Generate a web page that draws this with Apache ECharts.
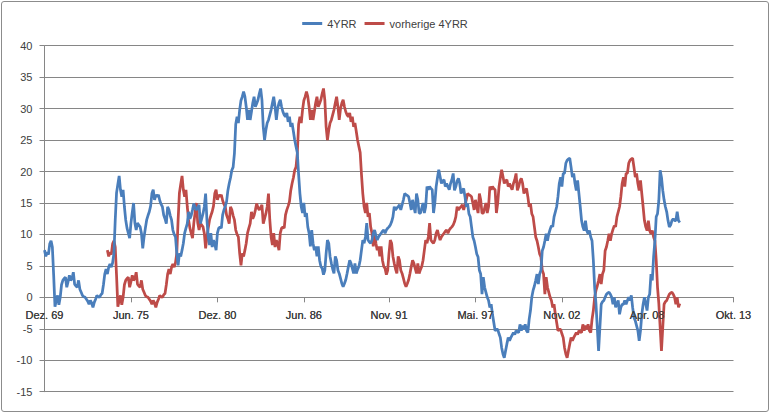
<!DOCTYPE html>
<html><head><meta charset="utf-8">
<script src="https://cdn.jsdelivr.net/npm/echarts@6/dist/echarts.min.js"></script>
<style>
html,body{margin:0;padding:0;background:#fff}
#c{position:absolute;left:0;top:0;width:770px;height:413px}
#frame{position:absolute;left:1px;top:1px;width:766px;height:409px;border:1px solid #8c8c8c;border-radius:3px;pointer-events:none}
</style>
</head><body><div id="c"></div><div id="frame"></div>
<script>
const seriesNames = ["4YRR", "vorherige 4YRR"];
const monthNames = ["Jan.", "Feb.", "Mär.", "Apr.", "Mai.", "Jun.", "Jul.", "Aug.", "Sep.", "Okt.", "Nov.", "Dez."];
const firstYear = 1969, firstMonthIdx = 11;   // Dez. 69
const lastYear = 2013, lastMonthIdx = 9;      // Okt. 13
const tickLabels = ["Dez. 69", "Jun. 75", "Dez. 80", "Jun. 86", "Nov. 91", "Mai. 97", "Nov. 02", "Apr. 08", "Okt. 13"];
const yMin = -15, yMax = 40, yStep = 5;

// 4YRR, monthly from Dez. 69
const fourYRR = [
7.5,6.5,7.2,6.8,8.5,9.0,8.0,3.5,-1.5,-0.5,0.3,-1.2,
0.0,2.0,2.7,3.0,3.2,1.6,2.5,3.5,2.7,3.0,4.0,2.1,
1.8,1.6,2.7,1.3,0.8,0.3,0.1,0.0,-0.3,-0.6,-1.1,-0.5,
-0.9,-1.6,-0.8,-0.3,0.3,0.1,0.0,0.4,0.6,2.0,3.7,4.5,
3.7,4.8,5.3,4.8,5.5,7.0,12.3,16.6,18.0,19.3,17.1,16.0,
17.1,14.4,12.3,11.0,10.2,9.4,11.8,13.5,15.0,11.8,10.7,11.8,
11.5,11.2,10.2,7.8,9.6,11.0,12.3,13.0,13.6,14.5,16.5,17.1,
15.5,16.3,16.0,16.3,15.4,14.8,14.4,13.1,12.5,11.7,14.4,13.9,
13.0,12.3,10.7,10.0,9.6,7.0,5.1,7.0,6.5,7.5,8.6,10.2,
11.0,11.7,13.6,12.5,13.0,13.9,14.9,14.2,13.9,14.3,14.7,11.7,
12.5,13.3,14.4,16.5,12.3,9.6,8.3,10.2,8.0,9.1,8.5,7.5,
10.2,11.0,11.2,11.0,13.1,13.9,14.5,15.2,17.0,18.1,19.0,20.2,
20.7,22.9,27.5,28.7,27.7,29.8,31.3,31.9,32.7,31.9,30.3,28.2,
29.8,28.2,29.5,30.9,31.9,30.3,30.8,31.4,32.4,33.2,31.4,27.1,
25.0,26.6,27.7,28.2,29.0,29.8,30.9,31.9,30.3,28.2,30.0,30.9,
31.4,30.3,29.5,29.0,28.7,29.3,27.9,28.7,27.1,27.7,26.4,25.0,
24.0,23.0,19.5,16.5,14.4,13.4,15.0,12.8,13.4,11.2,10.2,8.1,
10.7,8.6,7.5,8.1,6.5,8.1,5.9,4.9,4.6,3.6,4.3,7.0,
9.1,8.6,6.5,5.4,4.5,3.8,6.5,5.9,4.3,3.8,3.0,2.2,
1.7,2.2,2.8,3.8,4.9,5.9,5.4,4.6,3.8,5.4,3.8,4.4,
4.9,5.9,7.5,9.1,8.6,9.6,11.8,9.1,8.8,8.6,9.1,10.2,
10.7,9.8,9.1,9.6,9.9,10.2,10.5,10.7,10.2,10.7,11.0,11.2,
11.5,12.0,12.8,14.4,13.9,14.2,14.4,14.7,13.9,14.7,15.5,16.5,
16.3,16.2,16.0,15.0,13.9,15.5,14.4,13.4,16.5,15.5,13.4,13.4,
14.2,15.0,13.4,14.4,17.6,17.1,17.6,17.3,17.1,13.4,15.0,17.6,
19.0,20.3,19.2,18.1,18.5,18.7,17.6,18.1,17.6,17.1,18.1,18.7,
19.7,17.0,17.6,18.5,18.9,18.1,16.5,17.0,17.3,16.0,14.4,14.9,
13.3,12.8,11.2,9.6,9.0,8.0,6.9,6.4,4.3,3.7,0.5,3.2,
1.6,0.8,0.0,-0.5,-1.6,-1.1,-2.7,-4.0,-5.3,-5.1,-5.1,-5.8,
-6.4,-8.0,-9.0,-9.6,-8.5,-7.4,-6.4,-6.9,-6.4,-6.0,-5.6,-5.9,
-5.3,-5.5,-5.6,-4.3,-5.3,-4.5,-5.1,-4.3,-5.3,-5.6,-3.5,-2.1,
0.0,1.1,1.8,2.7,3.7,2.1,3.7,4.3,7.4,8.0,9.0,10.1,
9.0,10.1,10.8,11.4,11.2,12.8,13.6,14.4,16.0,18.1,19.1,17.6,
19.7,19.7,21.3,21.8,22.0,22.1,20.7,19.1,19.7,18.1,17.0,18.6,
16.5,14.4,12.2,11.2,10.6,12.2,10.6,10.1,10.6,9.6,9.0,5.9,
1.6,-1.0,-4.8,-8.5,-4.8,-1.1,-0.7,-0.5,0.0,0.5,0.7,0.8,
0.5,0.0,-1.1,0.0,-1.6,-1.0,-0.5,-2.7,-1.6,-1.1,-1.1,-0.5,
-1.1,-0.5,0.0,-0.5,0.3,-1.6,-3.2,-3.7,-4.5,-5.3,-6.9,-5.3,
-2.7,-1.1,0.0,-1.0,-2.1,0.0,0.5,3.7,2.7,6.4,9.0,12.8,
13.3,15.4,20.2,19.1,17.0,15.5,14.4,13.6,12.2,11.2,11.5,12.2,
12.5,12.2,12.2,13.6,12.2,11.9
];

// vorherige 4YRR, monthly from Dez. 73
const redStart = "Dez. 73";
const vorherige4YRR = [
7.5,6.5,7.2,6.8,8.5,9.0,8.0,3.5,-1.5,-0.5,0.3,-1.2,
0.0,2.0,2.7,3.0,3.2,1.6,2.5,3.5,2.7,3.0,4.0,2.1,
1.8,1.6,2.7,1.3,0.8,0.3,0.1,0.0,-0.3,-0.6,-1.1,-0.5,
-0.9,-1.6,-0.8,-0.3,0.3,0.1,0.0,0.4,0.6,2.0,3.7,4.5,
3.7,4.8,5.3,4.8,5.5,7.0,12.3,16.6,18.0,19.3,17.1,16.0,
17.1,14.4,12.3,11.0,10.2,9.4,11.8,13.5,15.0,11.8,10.7,11.8,
11.5,11.2,10.2,7.8,9.6,11.0,12.3,13.0,13.6,14.5,16.5,17.1,
15.5,16.3,16.0,16.3,15.4,14.8,14.4,13.1,12.5,11.7,14.4,13.9,
13.0,12.3,10.7,10.0,9.6,7.0,5.1,7.0,6.5,7.5,8.6,10.2,
11.0,11.7,13.6,12.5,13.0,13.9,14.9,14.2,13.9,14.3,14.7,11.7,
12.5,13.3,14.4,16.5,12.3,9.6,8.3,10.2,8.0,9.1,8.5,7.5,
10.2,11.0,11.2,11.0,13.1,13.9,14.5,15.2,17.0,18.1,19.0,20.2,
20.7,22.9,27.5,28.7,27.7,29.8,31.3,31.9,32.7,31.9,30.3,28.2,
29.8,28.2,29.5,30.9,31.9,30.3,30.8,31.4,32.4,33.2,31.4,27.1,
25.0,26.6,27.7,28.2,29.0,29.8,30.9,31.9,30.3,28.2,30.0,30.9,
31.4,30.3,29.5,29.0,28.7,29.3,27.9,28.7,27.1,27.7,26.4,25.0,
24.0,23.0,19.5,16.5,14.4,13.4,15.0,12.8,13.4,11.2,10.2,8.1,
10.7,8.6,7.5,8.1,6.5,8.1,5.9,4.9,4.6,3.6,4.3,7.0,
9.1,8.6,6.5,5.4,4.5,3.8,6.5,5.9,4.3,3.8,3.0,2.2,
1.7,2.2,2.8,3.8,4.9,5.9,5.4,4.6,3.8,5.4,3.8,4.4,
4.9,5.9,7.5,9.1,8.6,9.6,11.8,9.1,8.8,8.6,9.1,10.2,
10.7,9.8,9.1,9.6,9.9,10.2,10.5,10.7,10.2,10.7,11.0,11.2,
11.5,12.0,12.8,14.4,13.9,14.2,14.4,14.7,13.9,14.7,15.5,16.5,
16.3,16.2,16.0,15.0,13.9,15.5,14.4,13.4,16.5,15.5,13.4,13.4,
14.2,15.0,13.4,14.4,17.6,17.1,17.6,17.3,17.1,13.4,15.0,17.6,
19.0,20.3,19.2,18.1,18.5,18.7,17.6,18.1,17.6,17.1,18.1,18.7,
19.7,17.0,17.6,18.5,18.9,18.1,16.5,17.0,17.3,16.0,14.4,14.9,
13.3,12.8,11.2,9.6,9.0,8.0,6.9,6.4,4.3,3.7,0.5,3.2,
1.6,0.8,0.0,-0.5,-1.6,-1.1,-2.7,-4.0,-5.3,-5.1,-5.1,-5.8,
-6.4,-8.0,-9.0,-9.6,-8.5,-7.4,-6.4,-6.9,-6.4,-6.0,-5.6,-5.9,
-5.3,-5.5,-5.6,-4.3,-5.3,-4.5,-5.1,-4.3,-5.3,-5.6,-3.5,-2.1,
0.0,1.1,1.8,2.7,3.7,2.1,3.7,4.3,7.4,8.0,9.0,10.1,
9.0,10.1,10.8,11.4,11.2,12.8,13.6,14.4,16.0,18.1,19.1,17.6,
19.7,19.7,21.3,21.8,22.0,22.1,20.7,19.1,19.7,18.1,17.0,18.6,
16.5,14.4,12.2,11.2,10.6,12.2,10.6,10.1,10.6,9.6,9.0,5.9,
1.6,-1.0,-4.8,-8.5,-4.8,-1.1,-0.7,-0.5,0.0,0.5,0.7,0.8,
0.5,0.0,-1.1,0.0,-1.6,-1.0
];

// build month categories
const categories = [];
{
  let y = firstYear, m = firstMonthIdx;
  while (y < lastYear || (y === lastYear && m <= lastMonthIdx)) {
    categories.push(monthNames[m] + " " + String(y % 100).padStart(2, "0"));
    m++; if (m > 11) { m = 0; y++; }
  }
}
const redOffset = categories.indexOf(redStart);
const redData = new Array(redOffset).fill(null).concat(vorherige4YRR);

const FONT = "Liberation Sans, Arial, sans-serif";
const showTick = (idx, val) => tickLabels.indexOf(val) >= 0;

const GRID = { left: 44.5, right: 36.5, top: 45.7, bottom: 21.3 };
const plotH = 413 - GRID.top - GRID.bottom;
const zeroFromBottom = plotH * (0 - yMin) / (yMax - yMin);

const xAxisBase = {
  type: "category",
  data: categories,
  boundaryGap: false,
  position: "bottom",
  offset: -zeroFromBottom,
  axisLine: { onZero: false, lineStyle: { color: "#868686", width: 1 } },
  axisTick: { show: true, interval: showTick, length: 5, lineStyle: { color: "#868686" } },
  axisLabel: { interval: showTick, fontSize: 11, color: "#404040", fontFamily: FONT, margin: 12, hideOverlap: false },
  splitLine: { show: false }
};

const chart = echarts.init(document.getElementById("c"), null, { renderer: "svg" });
chart.setOption({
  animation: false,
  backgroundColor: "#ffffff",
  grid: Object.assign({ containLabel: false }, GRID),
  legend: {
    top: 13, left: "center",
    icon: "rect", itemWidth: 20, itemHeight: 3, itemGap: 8,
    textStyle: { fontSize: 11, color: "#404040", fontFamily: FONT },
    data: seriesNames
  },
  xAxis: [
    Object.assign({}, xAxisBase, { z: 0 }),
    Object.assign({}, xAxisBase, { z: 50, axisLine: { show: false }, axisTick: { show: false } })
  ],
  yAxis: {
    type: "value",
    min: yMin, max: yMax, interval: yStep,
    axisLine: { show: true, lineStyle: { color: "#868686", width: 1 } },
    axisTick: { show: true, length: 5, lineStyle: { color: "#868686" } },
    axisLabel: { fontSize: 11, color: "#404040", fontFamily: FONT, margin: 12 },
    splitLine: { show: true, lineStyle: { color: "#868686", width: 1 } }
  },
  series: [
    { name: seriesNames[0], type: "line", data: fourYRR, symbol: "none", connectNulls: false,
      lineStyle: { width: 2.75, color: "#4a7ebb" }, itemStyle: { color: "#4a7ebb" }, z: 3 },
    { name: seriesNames[1], type: "line", data: redData, symbol: "none", connectNulls: false,
      lineStyle: { width: 2.75, color: "#be4b48" }, itemStyle: { color: "#be4b48" }, z: 2 }
  ]
});
</script>
</body></html>
